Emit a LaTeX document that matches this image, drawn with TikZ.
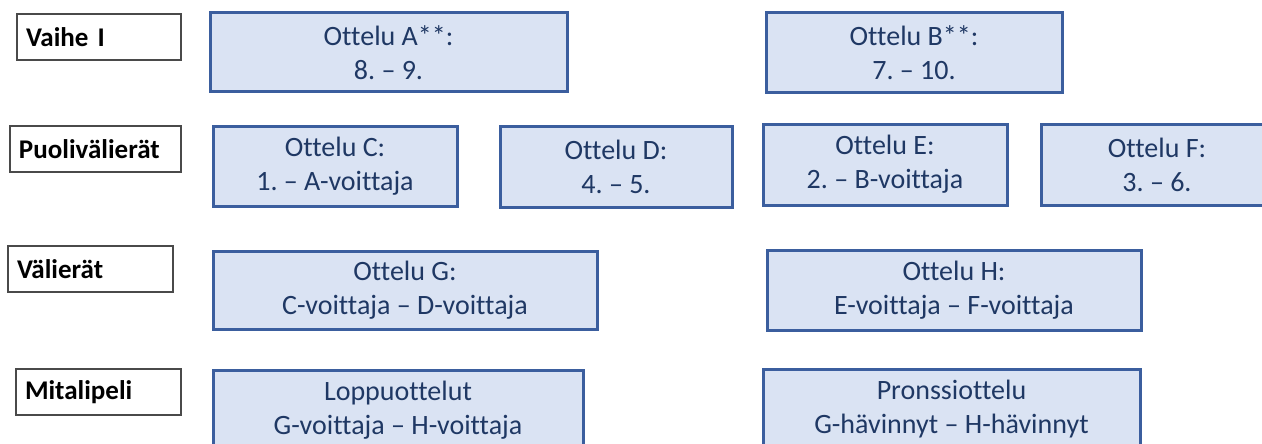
\documentclass[tikz,border=0pt]{standalone}
\usepackage{fontspec}
\setmainfont{Carlito}[Ligatures={NoCommon}]
\frenchspacing
\definecolor{boxfill}{HTML}{DAE3F3}
\definecolor{boxline}{HTML}{3B5E9E}
\definecolor{boxtext}{HTML}{1F3864}
\definecolor{lblline}{HTML}{4A4A4A}
\tikzset{
  match/.style={draw=boxline, line width=3pt, fill=boxfill, text=boxtext,
    align=center, inner sep=0pt, font=\fontsize{28}{34}\selectfont},
  stagelbl/.style={draw=lblline, line width=1.4pt, fill=white, text=black,
    align=left, inner xsep=9pt, inner ysep=0pt, minimum height=46pt,
    font=\fontsize{27}{32}\selectfont\bfseries},
}
\begin{document}
\begin{tikzpicture}[x=1pt,y=-1pt]
\useasboundingbox (0,0) rectangle (1262,444);
\clip (0,0) rectangle (1262,444);
\fill[white] (0,0) rectangle (1262,444);
% stage labels
\node[stagelbl, text width=146pt] (s1) at (99,37) {Vaihe I};
\node[stagelbl, text width=153pt] (s2) at (95.5,149) {Puolivälierät};
\node[stagelbl, text width=147pt] (s3) at (90.5,269) {Välierät};
\node[stagelbl, text width=147pt] (s4) at (98.5,392) {Mitalipeli};
% matches
\node[match, minimum width=357pt, minimum height=79pt] (A) at (388.5,52.5) {Ottelu A**:\\8. – 9.};
\node[match, minimum width=296pt, minimum height=80pt] (B) at (914,53) {Ottelu B**:\\7. – 10.};
\node[match, minimum width=244pt, minimum height=80pt] (C) at (335,166) {Ottelu C:\\1. – A-voittaja};
\node[match, minimum width=232pt, minimum height=81pt] (D) at (616,166.5) {Ottelu D:\\4. – 5.};
\node[match, minimum width=244pt, minimum height=81pt] (E) at (885,164.5) {Ottelu E:\\2. – B-voittaja};
\node[match, minimum width=232pt, minimum height=81pt] (F) at (1157,164.5) {Ottelu F:\\3. – 6.};
\node[match, minimum width=384pt, minimum height=78pt] (G) at (405,290) {Ottelu G:\\C-voittaja – D-voittaja};
\node[match, minimum width=374pt, minimum height=80pt] (H) at (954,290) {Ottelu H:\\E-voittaja – F-voittaja};
\node[match, minimum width=370pt, minimum height=80pt] (L) at (398,410) {Loppuottelut\\G-voittaja – H-voittaja};
\node[match, minimum width=377pt, minimum height=80pt] (P) at (951.5,409) {Pronssiottelu\\G-hävinnyt – H-hävinnyt};
\end{tikzpicture}
\end{document}
